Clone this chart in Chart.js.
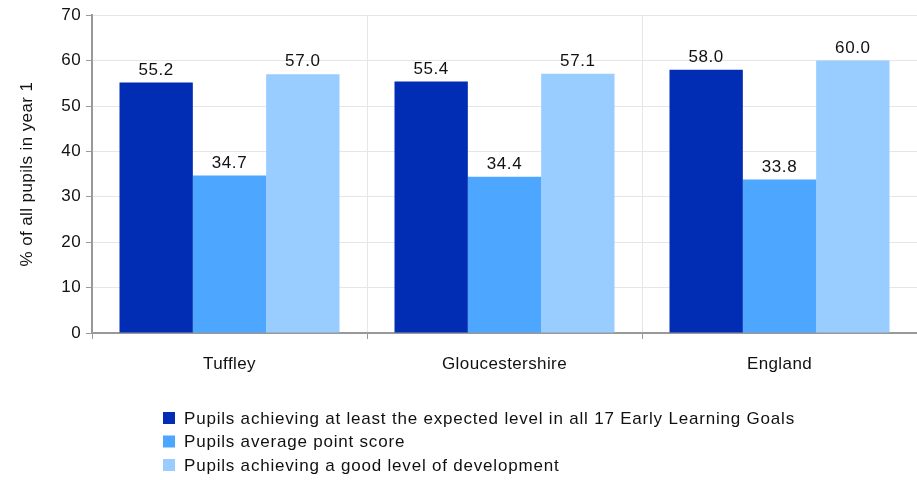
<!DOCTYPE html>
<html><head><meta charset="utf-8">
<script src="https://cdn.jsdelivr.net/npm/chart.js@4/dist/chart.umd.min.js"></script>
<style>html,body{margin:0;padding:0;background:#fff}#wrap{width:917px;height:480px;position:relative}</style>
</head><body><div id="wrap"><canvas id="c" width="917" height="480"></canvas></div>
<script>
const categories = ["Tuffley", "Gloucestershire", "England"];
const seriesNames = [
  "Pupils achieving at least the expected level in all 17 Early Learning Goals",
  "Pupils average point score",
  "Pupils achieving a good level of development"
];
const expectedLevel = [55.2, 55.4, 58.0];
const avgPointScore = [34.7, 34.4, 33.8];
const goodLevel = [57.0, 57.1, 60.0];
const yTicks = [0, 10, 20, 30, 40, 50, 60, 70];
const colors = ["#002DB3", "#4DA6FF", "#99CCFF"];
const FONT = "'Liberation Sans', Arial, sans-serif";

const spacing = {
  id: 'spacing',
  beforeDraw(chart) { chart.ctx.letterSpacing = '0.4px'; },
  beforeLayout(chart) { chart.ctx.letterSpacing = '0.4px'; }
};

const valueLabels = {
  id: 'valueLabels',
  afterDatasetsDraw(chart) {
    const ctx = chart.ctx;
    ctx.save();
    ctx.letterSpacing = '0.6px';
    ctx.font = "17px " + FONT;
    ctx.fillStyle = "#111";
    ctx.textAlign = "center";
    ctx.textBaseline = "bottom";
    chart.data.datasets.forEach((ds, i) => {
      chart.getDatasetMeta(i).data.forEach((bar, j) => {
        ctx.fillText(ds.data[j].toFixed(1), bar.x, bar.y - 4);
      });
    });
    ctx.restore();
  }
};

const customLegend = {
  id: 'customLegend',
  afterDraw(chart) {
    const ctx = chart.ctx;
    ctx.save();
    ctx.letterSpacing = '0.8px';
    ctx.font = "17px " + FONT;
    ctx.textBaseline = "middle";
    chart.data.datasets.forEach((ds, i) => {
      const y = 418 + i * 23.5;
      ctx.fillStyle = ds.backgroundColor;
      ctx.fillRect(163, y - 6, 12, 12);
      ctx.fillStyle = "#111";
      ctx.fillText(ds.label, 184, y + 1);
    });
    ctx.restore();
  }
};

new Chart(document.getElementById('c'), {
  type: 'bar',
  data: {
    labels: categories,
    datasets: [
      { label: seriesNames[0], data: expectedLevel, backgroundColor: colors[0] },
      { label: seriesNames[1], data: avgPointScore, backgroundColor: colors[1] },
      { label: seriesNames[2], data: goodLevel, backgroundColor: colors[2] }
    ]
  },
  options: {
    responsive: false,
    animation: false,
    devicePixelRatio: 1,
    layout: { padding: { top: 5, right: 0, left: 0, bottom: 0 } },
    datasets: { bar: { categoryPercentage: 0.8, barPercentage: 1.0 } },
    plugins: { legend: { display: false }, tooltip: { enabled: false } },
    scales: {
      x: {
        grid: { color: "#e6e6e6", lineWidth: 1, tickLength: 6, tickColor: "#999", offset: true },
        border: { color: "#999", width: 2 },
        ticks: { font: { size: 17, family: FONT }, color: "#111", padding: 15 },
        afterFit(s) { s.height = 147; }
      },
      y: {
        min: 0, max: 70,
        afterBuildTicks(s) { s.ticks = yTicks.map(v => ({ value: v })); },
        grid: { color: "#e6e6e6", lineWidth: 1, tickLength: 6, tickColor: "#999" },
        border: { color: "#999", width: 2 },
        ticks: { font: { size: 17, family: FONT }, color: "#111", padding: 5 },
        title: { display: true, text: "% of all pupils in year 1", font: { size: 17, family: FONT }, color: "#111", padding: { top: 17, bottom: 6 } },
        afterFit(s) { s.width = 92; }
      }
    }
  },
  plugins: [spacing, valueLabels, customLegend]
});
</script></body></html>
